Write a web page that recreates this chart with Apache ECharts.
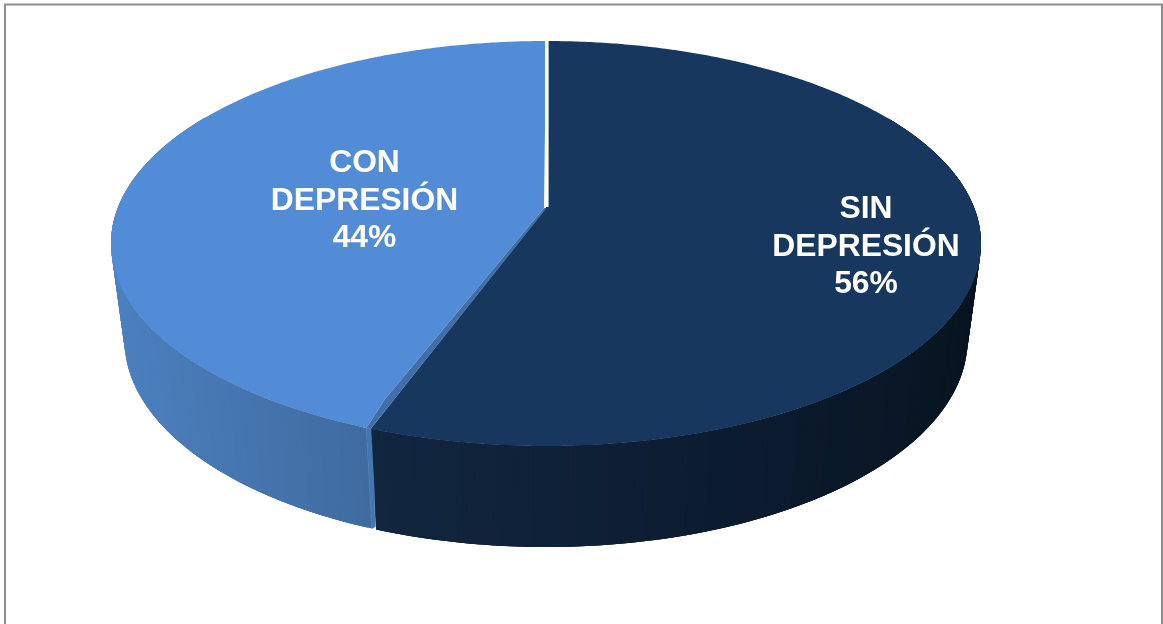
<!DOCTYPE html>
<html>
<head>
<meta charset="utf-8">
<style>html,body{margin:0;padding:0;background:#fff}#c{width:1163px;height:624px}</style>
<script src="https://cdn.jsdelivr.net/npm/echarts@6/dist/echarts.min.js"></script>
</head>
<body>
<div id="c"></div>
<script>
// Data (slice order runs clockwise from the top of the pie)
const categories = ['SIN\nDEPRESIÓN', 'CON\nDEPRESIÓN'];
const values = [55.55, 44.45];

// Layout and style
const K = -0.1753;
const CX = 546;
const TOP_RIM = { rx: 435, top: 41, bottom: 446 };
const BOT_RIM = { rx: 421.5, top: 133, bottom: 547 };
const FACE = ['#17375e', '#528bd6'];
const WALL = [
  [[370, '#11263f'], [620, '#0e1f35'], [980, '#081522']],
  [[110, '#4c80bf'], [370, '#3f6b9f']]
];
const BAND = '#3f6ea8', STRIP = '#4676ad';
const LABEL_POS = [[866, 247], [364.5, 201]];
const GAP = 0.55;

function rimMap(rim) {
  const a = rim.rx * Math.sqrt(1 - K * K);
  const h = rim.bottom - rim.top;
  const b = h / (1 / (1 - K) + 1 / (1 + K));
  const y0 = rim.top + b / (1 - K);
  return function (deg) {
    const t = deg * Math.PI / 180, u = Math.sin(t), v = -Math.cos(t), w = 1 + K * v;
    return [CX + a * u / w, y0 + b * v / w];
  };
}
const topAt = rimMap(TOP_RIM), botAt = rimMap(BOT_RIM);
const APEX_Y = (function () {
  const h = TOP_RIM.bottom - TOP_RIM.top, b = h / (1 / (1 - K) + 1 / (1 + K));
  return TOP_RIM.top + b / (1 - K);
})();
const APEX = [CX, APEX_Y];

function hex(c) { return [1, 3, 5].map(i => parseInt(c.substr(i, 2), 16)); }
function wallColor(stops, x) {
  if (x <= stops[0][0]) return stops[0][1];
  for (let i = 1; i < stops.length; i++) {
    if (x <= stops[i][0]) {
      const f = (x - stops[i - 1][0]) / (stops[i][0] - stops[i - 1][0]);
      const a = hex(stops[i - 1][1]), b = hex(stops[i][1]);
      return 'rgb(' + a.map((p, j) => Math.round(p + (b[j] - p) * f)).join(',') + ')';
    }
  }
  return stops[stops.length - 1][1];
}
function arc(from, to, fn) {
  const out = [], n = Math.ceil(Math.abs(to - from) / 0.5);
  for (let i = 0; i <= n; i++) out.push(fn(from + (to - from) * i / n));
  return out;
}
// Each strip reaches over the next few, so the later ones paint over the seams.
function wallStrips(from, to, stops) {
  const out = [], step = 0.5, n = Math.ceil((to - from) / step);
  for (let i = 0; i < n; i++) {
    const a = from + (to - from) * i / n;
    const b = Math.min(to, a + step * 3);
    const c = from + (to - from) * (i + 1) / n;
    const p = [topAt(a), topAt(b), botAt(b), botAt(a)];
    const col = wallColor(stops, topAt((a + c) / 2)[0]);
    out.push({ type: 'polygon', silent: true, shape: { points: p }, style: { fill: col } });
  }
  return out;
}
const total = values.reduce((a, b) => a + b, 0);
const pct = v => Math.round(v / total * 100) + '%';

function renderItem(params, api) {
  const i = params.dataIndex;
  const v = api.value(0);
  const split = values[0] / total * 360;
  const kids = [];
  if (i === 0) {
    kids.push(...wallStrips(60, split, WALL[0]));
    kids.push({ type: 'polygon', silent: true, shape: { points: [APEX].concat(arc(0, v / total * 360, topAt)) }, style: { fill: FACE[0] } });
  } else {
    const s = split + GAP;
    kids.push(...wallStrips(s, 300, WALL[1]));
    const t0 = topAt(split), t1 = topAt(s), b1 = botAt(s), b0 = botAt(split);
    const bEnd = [t0[0] + (b0[0] - t0[0]) * 0.97 - 0.8, t0[1] + (b0[1] - t0[1]) * 0.97];
    const mid = [t0[0] + (b0[0] - t0[0]) * 0.6, t0[1] + (b0[1] - t0[1]) * 0.6];
    kids.push({ type: 'polygon', silent: true, shape: { points: [t0, t1, b1, bEnd, mid] }, style: { fill: STRIP, stroke: STRIP, lineWidth: 0.8 } });
    const ap = [APEX[0] - 2, APEX[1]];
    const kink = [ap[0] + (t1[0] - ap[0]) * 0.87 - 4.5, ap[1] + (t1[1] - ap[1]) * 0.87];
    kids.push({ type: 'polygon', silent: true, shape: { points: [ap, kink].concat(arc(s, 360, topAt)) }, style: { fill: FACE[1] } });
    kids.push({ type: 'polygon', silent: true, shape: { points: [ap, [APEX[0] + 0.5, APEX[1]], t0, t1, kink] }, style: { fill: BAND } });
    kids.push({ type: 'rect', silent: true, shape: { x: 545, y: 36, width: 3.6, height: APEX[1] - 37 }, style: { fill: '#ffffff' } });
  }
  kids.push({
    type: 'text', silent: true, z2: 10,
    x: LABEL_POS[i][0], y: LABEL_POS[i][1],
    style: {
      text: categories[i] + '\n' + pct(v),
      fill: '#ffffff', align: 'center', verticalAlign: 'middle',
      font: 'bold 31.8px "Liberation Sans", Arial, sans-serif', lineHeight: 37.5
    }
  });
  return { type: 'group', children: kids };
}

const chart = echarts.init(document.getElementById('c'), null, { renderer: 'canvas' });
chart.setOption({
  animation: false,
  backgroundColor: '#ffffff',
  graphic: [
    { type: 'polyline', silent: true, shape: { points: [[5, 624], [5, 4.5], [1162, 4.5], [1162, 624]] }, style: { stroke: '#8c8c8c', lineWidth: 2, fill: null } }
  ],
  series: [{
    type: 'custom',
    coordinateSystem: 'none',
    renderItem: renderItem,
    encode: { value: 0 },
    data: values.map((v, i) => ({ name: categories[i], value: [v] }))
  }]
});
</script>
</body>
</html>
